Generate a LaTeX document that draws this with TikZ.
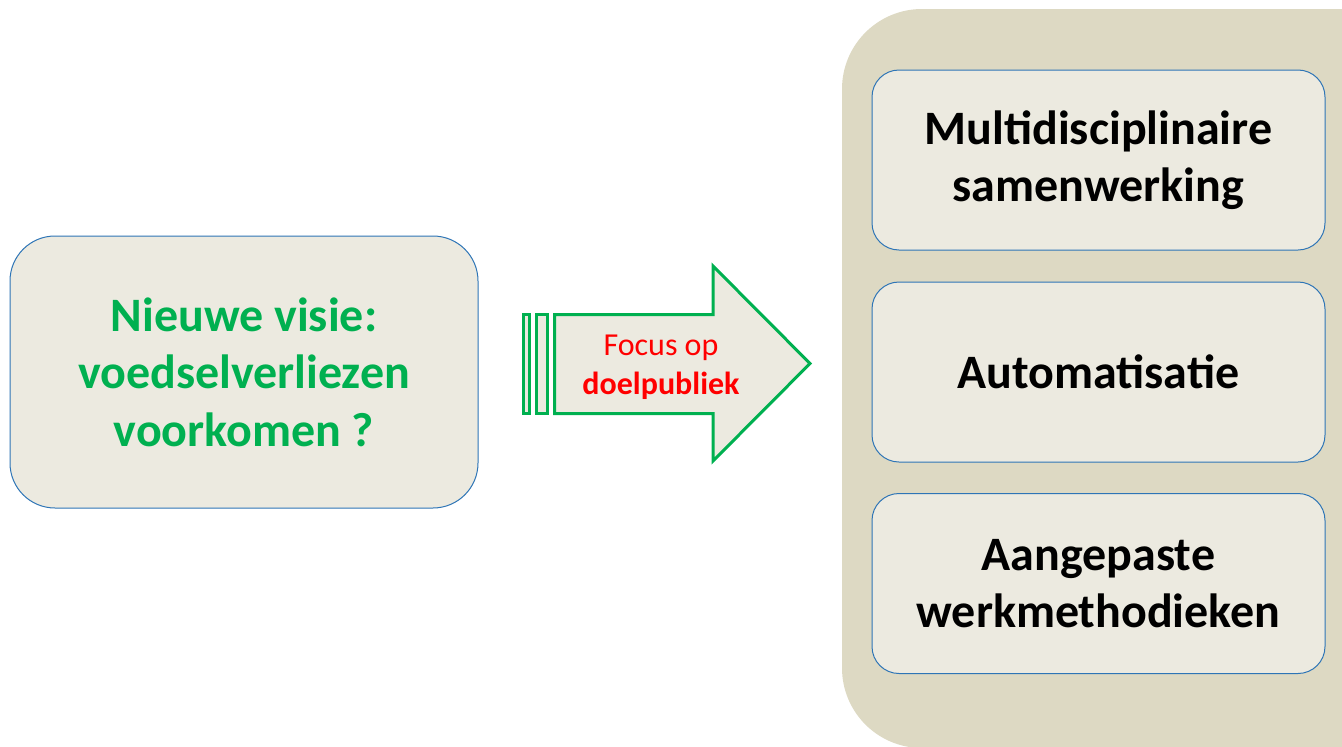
\documentclass[tikz,border=0pt]{standalone}
\usepackage{fontspec}
\setmainfont{Carlito}
\definecolor{outerbg}{RGB}{221,217,195}
\definecolor{boxfill}{RGB}{236,234,224}
\definecolor{boxline}{RGB}{46,117,182}
\definecolor{grn}{RGB}{0,176,80}
\definecolor{rd}{RGB}{255,0,0}
\tikzset{
  panel/.style={draw=boxline, line width=1pt, fill=boxfill, rounded corners=27pt,
    minimum width=453pt, minimum height=180pt, align=center,
    font=\fontsize{48}{57}\selectfont\bfseries, text=black},
  leftbox/.style={draw=boxline, line width=1pt, fill=boxfill, rounded corners=45pt,
    minimum width=468pt, minimum height=272pt, align=center,
    font=\fontsize{48}{57.5}\selectfont\bfseries, text=grn},
  arrowline/.style={draw=grn, line width=3pt, fill=boxfill, line join=miter},
}
\begin{document}
\begin{tikzpicture}[x=1pt,y=-1pt]
\useasboundingbox (0,0) rectangle (1342,747);
\begin{scope}
\clip (0,0) rectangle (1342,747);
\fill[outerbg, rounded corners=80pt] (842,9) rectangle (1430,748);
\end{scope}
\node[panel] (p1) at (1098.5,160) {Multidisciplinaire\\samenwerking};
\node[panel] (p2) at (1098.5,372) {Automatisatie};
\node[panel] (p3) at (1098.5,583.5) {Aangepaste\\werkmethodieken};
\node[leftbox] (lb) at (244,372) {Nieuwe visie:\\voedselverliezen\\voorkomen ?};
% arrow
\draw[arrowline] (523.5,314.5) rectangle (529.5,413.5);
\draw[arrowline] (536.5,314.5) rectangle (547.5,413.5);
\draw[arrowline] (554.5,314.5) -- (713,314.5) -- (713,266) -- (810,363.5) -- (713,461) -- (713,413.5) -- (554.5,413.5) -- cycle;
\node[align=center, text=rd, font=\fontsize{32}{39}\selectfont] (lbl) at (661,367) {Focus op\\\textbf{doelpubliek}};
\end{tikzpicture}
\end{document}
